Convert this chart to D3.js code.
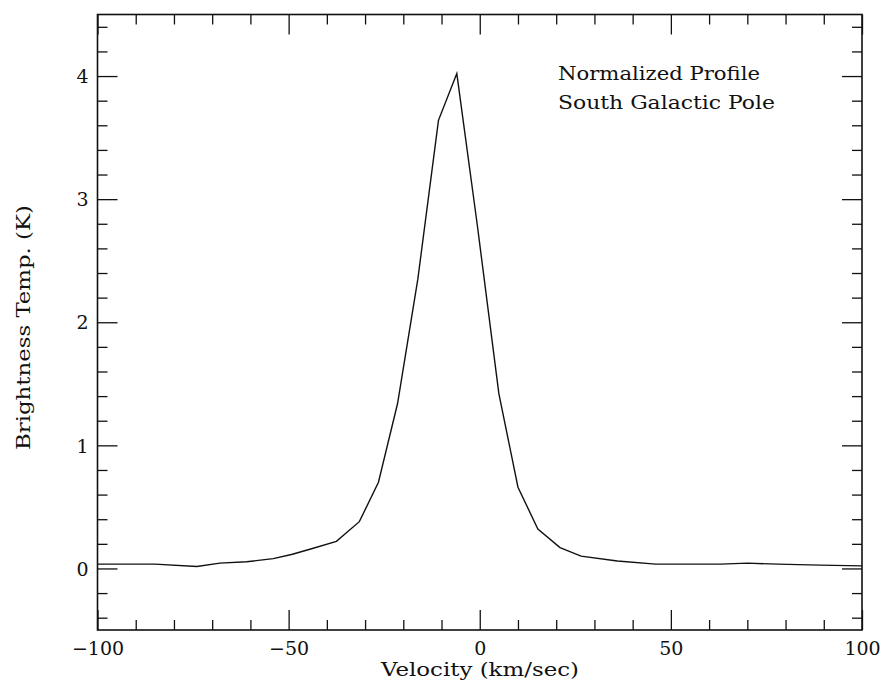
<!DOCTYPE html>
<html>
<head>
<meta charset="utf-8">
<script src="https://cdn.jsdelivr.net/npm/d3@7"></script>
<style>
  body { margin: 0; background: #fff; }
  text { font-family: "DejaVu Serif", "Liberation Serif", serif; fill: #111; }
</style>
</head>
<body>
<div id="chart"></div>
<script>
// Profile (velocity in km/sec, brightness temp in K).
const velocity = [-100, -85, -74, -68, -61, -54, -49, -44, -37.5, -31.5, -26.5, -21.5, -16.2, -10.8, -6,
                  -0.6, 5, 10, 15.2, 21, 26.5, 36, 46, 63, 70, 78, 89, 100];
const brightness = [0.035, 0.035, 0.016, 0.043, 0.054, 0.08, 0.115, 0.16, 0.22, 0.38, 0.70, 1.34, 2.35, 3.64, 4.02,
                    2.78, 1.42, 0.66, 0.32, 0.17, 0.10, 0.06, 0.035, 0.035, 0.043, 0.035, 0.027, 0.021];

const xMajor = [-100, -50, 0, 50, 100];
const yMajor = [0, 1, 2, 3, 4];
const notes = ["Normalized Profile", "South Galactic Pole"];

const width = 884, height = 683;
const margin = { top: 14.5, right: 22, bottom: 53, left: 97.5 };

const svg = d3.select("#chart").append("svg")
    .attr("width", width)
    .attr("height", height);

const x = d3.scaleLinear().domain([-100, 100]).range([margin.left, width - margin.right]);
const y = d3.scaleLinear().domain([-0.5, 4.5]).range([height - margin.bottom, margin.top]);

const xMinor = d3.range(-100, 101, 10).filter(d => !xMajor.includes(d));
const yMinor = d3.range(-0.4, 4.5, 0.2).map(d => Math.round(d * 10) / 10).filter(d => !yMajor.includes(d));

// Ticks point inward on all four sides.
function drawAxis(axisFn, scale, translate, major, minor, labels) {
    const gMinor = svg.append("g").attr("transform", translate)
        .call(axisFn(scale).tickValues(minor).tickSize(-10).tickFormat(""));
    const gMajor = svg.append("g").attr("transform", translate)
        .call(axisFn(scale).tickValues(major).tickSize(-20)
            .tickFormat(labels ? d3.format("d") : "").tickPadding(labels ? 8 : 0));
    [gMinor, gMajor].forEach(g => {
        g.select(".domain").remove();
        g.selectAll("line").attr("stroke", "#111").attr("stroke-width", 1.3);
    });
    gMajor.selectAll("text").style("font-size", "19px").attr("fill", "#111");
    return gMajor;
}

const bottom = drawAxis(d3.axisBottom, x, `translate(0,${height - margin.bottom})`, xMajor, xMinor, true);
bottom.selectAll("text").attr("dy", "0.9em");
drawAxis(d3.axisTop, x, `translate(0,${margin.top})`, xMajor, xMinor, false);
const left = drawAxis(d3.axisLeft, y, `translate(${margin.left},0)`, yMajor, yMinor, true);
left.selectAll("text").attr("dy", "0.35em").attr("x", -9);
drawAxis(d3.axisRight, y, `translate(${width - margin.right},0)`, yMajor, yMinor, false);

// Frame
svg.append("rect")
    .attr("x", margin.left)
    .attr("y", margin.top)
    .attr("width", width - margin.left - margin.right)
    .attr("height", height - margin.top - margin.bottom)
    .attr("fill", "none")
    .attr("stroke", "#111")
    .attr("stroke-width", 1.6);

// Profile line
const line = d3.line()
    .x((d, i) => x(velocity[i]))
    .y(d => y(d));

svg.append("path")
    .datum(brightness)
    .attr("d", line)
    .attr("fill", "none")
    .attr("stroke", "#111")
    .attr("stroke-width", 1.4)
    .attr("stroke-linejoin", "miter");

// Axis titles (the plotter font is wide, so stretch the glyphs to match)
svg.append("text")
    .attr("x", 381)
    .attr("y", 676)
    .attr("textLength", 198)
    .attr("lengthAdjust", "spacingAndGlyphs")
    .style("font-size", "18px")
    .text("Velocity (km/sec)");

svg.append("text")
    .attr("transform", "translate(30,450) rotate(-90)")
    .attr("textLength", 245)
    .attr("lengthAdjust", "spacingAndGlyphs")
    .style("font-size", "18px")
    .text("Brightness Temp. (K)");

// Annotation
const noteWidths = [202, 217];
svg.selectAll(".note")
    .data(notes)
    .enter()
    .append("text")
    .attr("class", "note")
    .attr("x", 558)
    .attr("y", (d, i) => 80 + i * 29)
    .attr("textLength", (d, i) => noteWidths[i])
    .attr("lengthAdjust", "spacingAndGlyphs")
    .style("font-size", "18px")
    .text(d => d);
</script>
</body>
</html>
